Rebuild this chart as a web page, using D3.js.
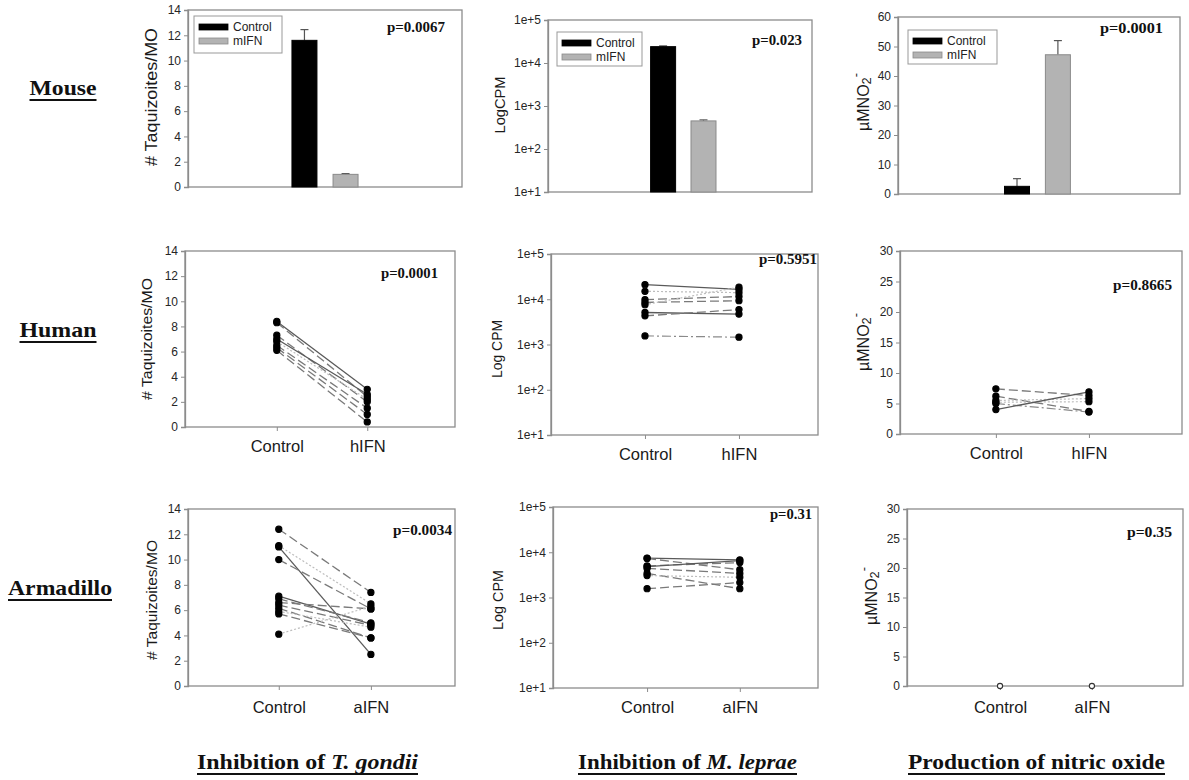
<!DOCTYPE html>
<html><head><meta charset="utf-8">
<script src="https://cdn.jsdelivr.net/npm/d3@7"></script>
<style>body{margin:0;background:#fff}svg{display:block}</style></head>
<body><svg id="c" width="1189" height="780"></svg>
<script>
// ---------------- DATA ----------------
const rowLabels = ["Mouse", "Human", "Armadillo"];
const colLabels = [["Inhibition of ", "T. gondii"], ["Inhibition of ", "M. leprae"], ["Production of nitric oxide", ""]];
const mouseCats = ["Control", "mIFN"];
const humanCats = ["Control", "hIFN"];
const armaCats = ["Control", "aIFN"];

const linTicks14 = [0, 2, 4, 6, 8, 10, 12, 14];
const linTicks60 = [0, 10, 20, 30, 40, 50, 60];
const linTicks30 = [0, 5, 10, 15, 20, 25, 30];
const logTickVals = [10, 100, 1000, 10000, 100000];
const logTickLabels = ["1e+1", "1e+2", "1e+3", "1e+4", "1e+5"];

// Mouse (bars, mean + upper error)
const mouseTg = [11.6, 1.0];
const mouseTgErr = [0.85, 0.06];
const mouseMl = [24000, 450];
const mouseMlErr = [1000, 25];
const mouseNO = [2.6, 47.2];
const mouseNOErr = [2.6, 4.8];

// Human (paired)
const humanTgCtrl = [8.4, 8.3, 7.3, 7.0, 6.8, 6.5, 6.3, 6.1];
const humanTgIFN  = [3.0, 2.4, 2.0, 2.6, 2.2, 1.5, 1.0, 0.4];
const humanTgStyle = ["solid", "dash", "dash", "solid", "dot", "dash", "dash", "dash"];

const humanMlCtrl = [21000, 15000, 9800, 8500, 7600, 5100, 4300, 1550];
const humanMlIFN  = [16500, 14000, 11500, 9300, 18500, 4700, 5900, 1450];
const humanMlStyle = ["solid", "dot", "dash", "dash", "dot", "solid", "dash", "dashdot"];

const humanNOCtrl = [7.4, 6.2, 5.5, 5.2, 5.0, 4.0];
const humanNOIFN  = [6.3, 3.7, 5.8, 5.3, 3.6, 6.9];
const humanNOStyle = ["dash", "dash", "dot", "dot", "dashdot", "solid"];

// Armadillo (paired)
const armaTgCtrl = [12.4, 11.1, 11.0, 10.0, 7.1, 6.9, 6.6, 6.4, 6.15, 5.9, 5.7, 4.1];
const armaTgIFN  = [7.4, 6.5, 2.5, 6.1, 4.9, 5.0, 6.1, 4.8, 3.8, 4.65, 3.8, 6.3];
const armaTgStyle = ["dash", "dot", "solid", "dash", "solid", "dash", "dash", "dash", "dash", "dot", "dash", "dot"];

const armaMlCtrl = [7400, 7300, 5000, 4800, 4400, 3400, 3050, 1570];
const armaMlIFN  = [6800, 4100, 5900, 6500, 3400, 1570, 2800, 2140];
const armaMlStyle = ["solid", "dash", "dash", "solid", "dash", "dash", "dot", "dash"];

const armaNOCtrl = [0];
const armaNOIFN  = [0];

const pValues = [["p=0.0067", "p=0.023", "p=0.0001"], ["p=0.0001", "p=0.5951", "p=0.8665"], ["p=0.0034", "p=0.31", "p=0.35"]];

// ---------------- DRAW ----------------
const svg = d3.select("#c");
const FRAME = "#8c8c8c";
const SANS = "'Liberation Sans', Arial, sans-serif";
const SERIF = "'Liberation Serif', 'Times New Roman', serif";

const lineStyles = {
  solid:   {stroke: "#5a5a5a", dash: null, w: 1.3},
  dash:    {stroke: "#7a7a7a", dash: "9,4", w: 1.3},
  dot:     {stroke: "#bdbdbd", dash: "2,2", w: 1.2},
  dashdot: {stroke: "#8a8a8a", dash: "9,3,2,3", w: 1.2}
};

function makePanel(o) {
  const g = svg.append("g");
  const y = (o.log ? d3.scaleLog() : d3.scaleLinear()).domain(o.domain).range([o.y1, o.y0]);
  const w = o.x1 - o.x0;
  // frame
  g.append("rect").attr("x", o.x0).attr("y", o.y0).attr("width", w).attr("height", o.y1 - o.y0)
    .attr("fill", "none").attr("stroke", FRAME).attr("stroke-width", 1.3);
  // y axis
  const ax = d3.axisLeft(y).tickValues(o.tickVals)
    .tickFormat((d, i) => o.tickLabels ? o.tickLabels[i] : d).tickSize(4).tickPadding(3);
  const ag = g.append("g").attr("transform", `translate(${o.x0},0)`).call(ax);
  ag.select(".domain").attr("stroke", FRAME).attr("stroke-width", 1.3);
  ag.selectAll(".tick line").attr("stroke", FRAME);
  ag.selectAll(".tick text").attr("fill", "#262626").style("font-family", SANS).style("font-size", "12px");

  // y label
  const yl = g.append("text").attr("transform", `translate(${o.ylx},${o.yly}) rotate(-90)`)
    .attr("text-anchor", "middle").attr("dominant-baseline", "central")
    .attr("fill", "#1a1a1a").style("font-family", SANS).style("font-size", o.ylSize + "px");
  if (o.ylabel === "NO") {
    yl.append("tspan").text("µMNO");
    yl.append("tspan").attr("baseline-shift", "-25%").style("font-size", (o.ylSize * 0.8) + "px").text("2");
    yl.append("tspan").attr("baseline-shift", "60%").style("font-size", (o.ylSize * 0.8) + "px").text("-");
  } else {
    yl.text(o.ylabel).attr("textLength", o.ylLen).attr("lengthAdjust", "spacingAndGlyphs");
  }

  // p value
  g.append("text").attr("x", o.px).attr("y", o.py).text(o.p)
    .attr("textLength", o.pLen).attr("lengthAdjust", "spacingAndGlyphs")
    .style("font-family", SERIF).style("font-weight", "bold").style("font-size", "15px").attr("fill", "#111");

  if (o.type === "bar") {
    const x = d3.scalePoint().domain(o.cats).range([o.x0 + o.c0 * w, o.x0 + o.c1 * w]);
    const bw = 25;
    const base = o.log ? o.domain[0] : 0;
    const cols = ["#000", "#b3b3b3"];
    const strokes = ["#000", "#8a8a8a"];
    o.cats.forEach((c, i) => {
      const v = o.values[i], e = o.errs[i];
      g.append("line").attr("x1", x(c)).attr("x2", x(c)).attr("y1", y(v)).attr("y2", y(v + e))
        .attr("stroke", "#555").attr("stroke-width", 1.2);
      g.append("line").attr("x1", x(c) - 4).attr("x2", x(c) + 4).attr("y1", y(v + e)).attr("y2", y(v + e))
        .attr("stroke", "#555").attr("stroke-width", 1.2);
      g.append("rect").attr("x", x(c) - bw / 2).attr("width", bw).attr("y", y(v)).attr("height", y(base) - y(v))
        .attr("fill", cols[i]).attr("stroke", strokes[i]).attr("stroke-width", 1);
    });
    // legend
    const L = o.legend;
    g.append("rect").attr("x", L.x).attr("y", L.y).attr("width", L.w).attr("height", L.h)
      .attr("fill", "#fff").attr("stroke", "#999").attr("stroke-width", 1);
    o.cats.forEach((c, i) => {
      const yy = L.y + 11 + i * 14;
      g.append("rect").attr("x", L.x + 5).attr("y", yy - 3).attr("width", 29).attr("height", 6)
        .attr("fill", cols[i]).attr("stroke", strokes[i]).attr("stroke-width", 0.8);
      g.append("text").attr("x", L.x + 39).attr("y", yy).attr("dominant-baseline", "central").text(c)
        .attr("fill", "#222").style("font-family", SANS).style("font-size", "12px");
    });
  } else {
    const x = d3.scalePoint().domain(o.cats).range([o.x0 + o.c0 * w, o.x0 + o.c1 * w]);
    const bx = d3.axisBottom(x).tickSize(4).tickPadding(o.tpad);
    const bg = g.append("g").attr("transform", `translate(0,${o.y1})`).call(bx);
    bg.select(".domain").remove();
    bg.selectAll(".tick line").attr("stroke", FRAME);
    bg.selectAll(".tick text").attr("fill", "#1a1a1a").style("font-family", SANS).style("font-size", "16.5px");
    const pairs = o.ctrl.map((v, i) => [v, o.ifn[i], o.styles ? o.styles[i] : "solid"]);
    if (!o.open) {
      pairs.forEach(p => {
        const s = lineStyles[p[2]];
        g.append("line").attr("x1", x(o.cats[0])).attr("x2", x(o.cats[1]))
          .attr("y1", y(p[0])).attr("y2", y(p[1]))
          .attr("stroke", s.stroke).attr("stroke-width", s.w).attr("stroke-dasharray", s.dash);
      });
    }
    pairs.forEach(p => {
      [0, 1].forEach(k => {
        g.append("circle").attr("cx", x(o.cats[k])).attr("cy", y(p[k])).attr("r", o.open ? 2.6 : 3.1)
          .attr("fill", o.open ? "#fff" : "#000").attr("stroke", o.open ? "#333" : "#000").attr("stroke-width", 1.1);
      });
    });
  }
}

// Row 1 - Mouse
makePanel({type: "bar", x0: 188, x1: 462, y0: 10, y1: 187, domain: [0, 14], tickVals: linTicks14,
  cats: mouseCats, values: mouseTg, errs: mouseTgErr, c0: 0.425, c1: 0.575,
  ylabel: "# Taquizoites/MO", ylx: 151, yly: 97, ylSize: 16, ylLen: 138,
  p: pValues[0][0], px: 387, py: 32, pLen: 58, legend: {x: 194, y: 16, w: 88, h: 37}});
makePanel({type: "bar", log: true, x0: 548, x1: 812, y0: 20, y1: 192, domain: [10, 100000],
  tickVals: logTickVals, tickLabels: logTickLabels,
  cats: mouseCats, values: mouseMl, errs: mouseMlErr, c0: 0.436, c1: 0.589,
  ylabel: "LogCPM", ylx: 499, yly: 105, ylSize: 15, ylLen: 57,
  p: pValues[0][1], px: 752, py: 45, pLen: 50, legend: {x: 557, y: 32, w: 85, h: 34}});
makePanel({type: "bar", x0: 898, x1: 1180, y0: 17, y1: 194, domain: [0, 60], tickVals: linTicks60,
  cats: mouseCats, values: mouseNO, errs: mouseNOErr, c0: 0.422, c1: 0.567,
  ylabel: "NO", ylx: 863, yly: 102, ylSize: 16,
  p: pValues[0][2], px: 1100, py: 33, pLen: 63, legend: {x: 908, y: 30, w: 89, h: 34}});

// Row 2 - Human
makePanel({type: "pair", x0: 185, x1: 455, y0: 251, y1: 427, domain: [0, 14], tickVals: linTicks14,
  cats: humanCats, ctrl: humanTgCtrl, ifn: humanTgIFN, styles: humanTgStyle, c0: 0.34, c1: 0.675, tpad: 9,
  ylabel: "# Taquizoites/MO", ylx: 147, yly: 339, ylSize: 14.5, ylLen: 122,
  p: pValues[1][0], px: 381, py: 278, pLen: 57});
makePanel({type: "pair", log: true, x0: 551, x1: 818, y0: 254, y1: 435, domain: [10, 100000],
  tickVals: logTickVals, tickLabels: logTickLabels,
  cats: humanCats, ctrl: humanMlCtrl, ifn: humanMlIFN, styles: humanMlStyle, c0: 0.352, c1: 0.704, tpad: 9,
  ylabel: "Log CPM", ylx: 496, yly: 349, ylSize: 15, ylLen: 58,
  p: pValues[1][1], px: 759, py: 264, pLen: 58});
makePanel({type: "pair", x0: 900, x1: 1182, y0: 251, y1: 434, domain: [0, 30], tickVals: linTicks30,
  cats: humanCats, ctrl: humanNOCtrl, ifn: humanNOIFN, styles: humanNOStyle, c0: 0.34, c1: 0.67, tpad: 9,
  ylabel: "NO", ylx: 863, yly: 342, ylSize: 16,
  p: pValues[1][2], px: 1113, py: 290, pLen: 59});

// Row 3 - Armadillo
makePanel({type: "pair", x0: 188, x1: 455, y0: 509, y1: 686, domain: [0, 14], tickVals: linTicks14,
  cats: armaCats, ctrl: armaTgCtrl, ifn: armaTgIFN, styles: armaTgStyle, c0: 0.34, c1: 0.685, tpad: 11,
  ylabel: "# Taquizoites/MO", ylx: 152, yly: 600, ylSize: 14.5, ylLen: 120,
  p: pValues[2][0], px: 393, py: 535, pLen: 59});
makePanel({type: "pair", log: true, x0: 553, x1: 818, y0: 507, y1: 688, domain: [10, 100000],
  tickVals: logTickVals, tickLabels: logTickLabels,
  cats: armaCats, ctrl: armaMlCtrl, ifn: armaMlIFN, styles: armaMlStyle, c0: 0.355, c1: 0.705, tpad: 9,
  ylabel: "Log CPM", ylx: 497, yly: 600, ylSize: 15, ylLen: 60,
  p: pValues[2][1], px: 770, py: 519, pLen: 42});
makePanel({type: "pair", x0: 907, x1: 1183, y0: 509, y1: 686, domain: [0, 30], tickVals: linTicks30,
  cats: armaCats, ctrl: armaNOCtrl, ifn: armaNOIFN, open: true, c0: 0.337, c1: 0.67, tpad: 11,
  ylabel: "NO", ylx: 871, yly: 596, ylSize: 16,
  p: pValues[2][2], px: 1127, py: 537, pLen: 45});

// Row labels
const rowPos = [{cx: 63, y: 95, len: 67}, {cx: 58, y: 337, len: 77}, {cx: 60, y: 595, len: 104}];
rowLabels.forEach((t, i) => {
  const r = rowPos[i];
  svg.append("text").attr("x", r.cx).attr("y", r.y).attr("text-anchor", "middle").text(t)
    .attr("textLength", r.len).attr("lengthAdjust", "spacingAndGlyphs")
    .style("font-family", SERIF).style("font-weight", "bold").style("font-size", "22px").attr("fill", "#111");
  svg.append("line").attr("x1", r.cx - r.len / 2).attr("x2", r.cx + r.len / 2).attr("y1", r.y + 5).attr("y2", r.y + 5)
    .attr("stroke", "#111").attr("stroke-width", 2);
});

// Column labels (footer)
const colPos = [{x: 197, len: 221}, {x: 578, len: 219}, {x: 908, len: 257}];
colLabels.forEach((t, i) => {
  const c = colPos[i];
  const tx = svg.append("text").attr("x", c.x).attr("y", 769)
    .attr("textLength", c.len).attr("lengthAdjust", "spacingAndGlyphs")
    .style("font-family", SERIF).style("font-weight", "bold").style("font-size", "21px").attr("fill", "#111");
  tx.append("tspan").text(t[0]);
  if (t[1]) tx.append("tspan").style("font-style", "italic").text(t[1]);
  svg.append("line").attr("x1", c.x).attr("x2", c.x + c.len).attr("y1", 774).attr("y2", 774)
    .attr("stroke", "#111").attr("stroke-width", 2);
});
</script>
</body></html>
